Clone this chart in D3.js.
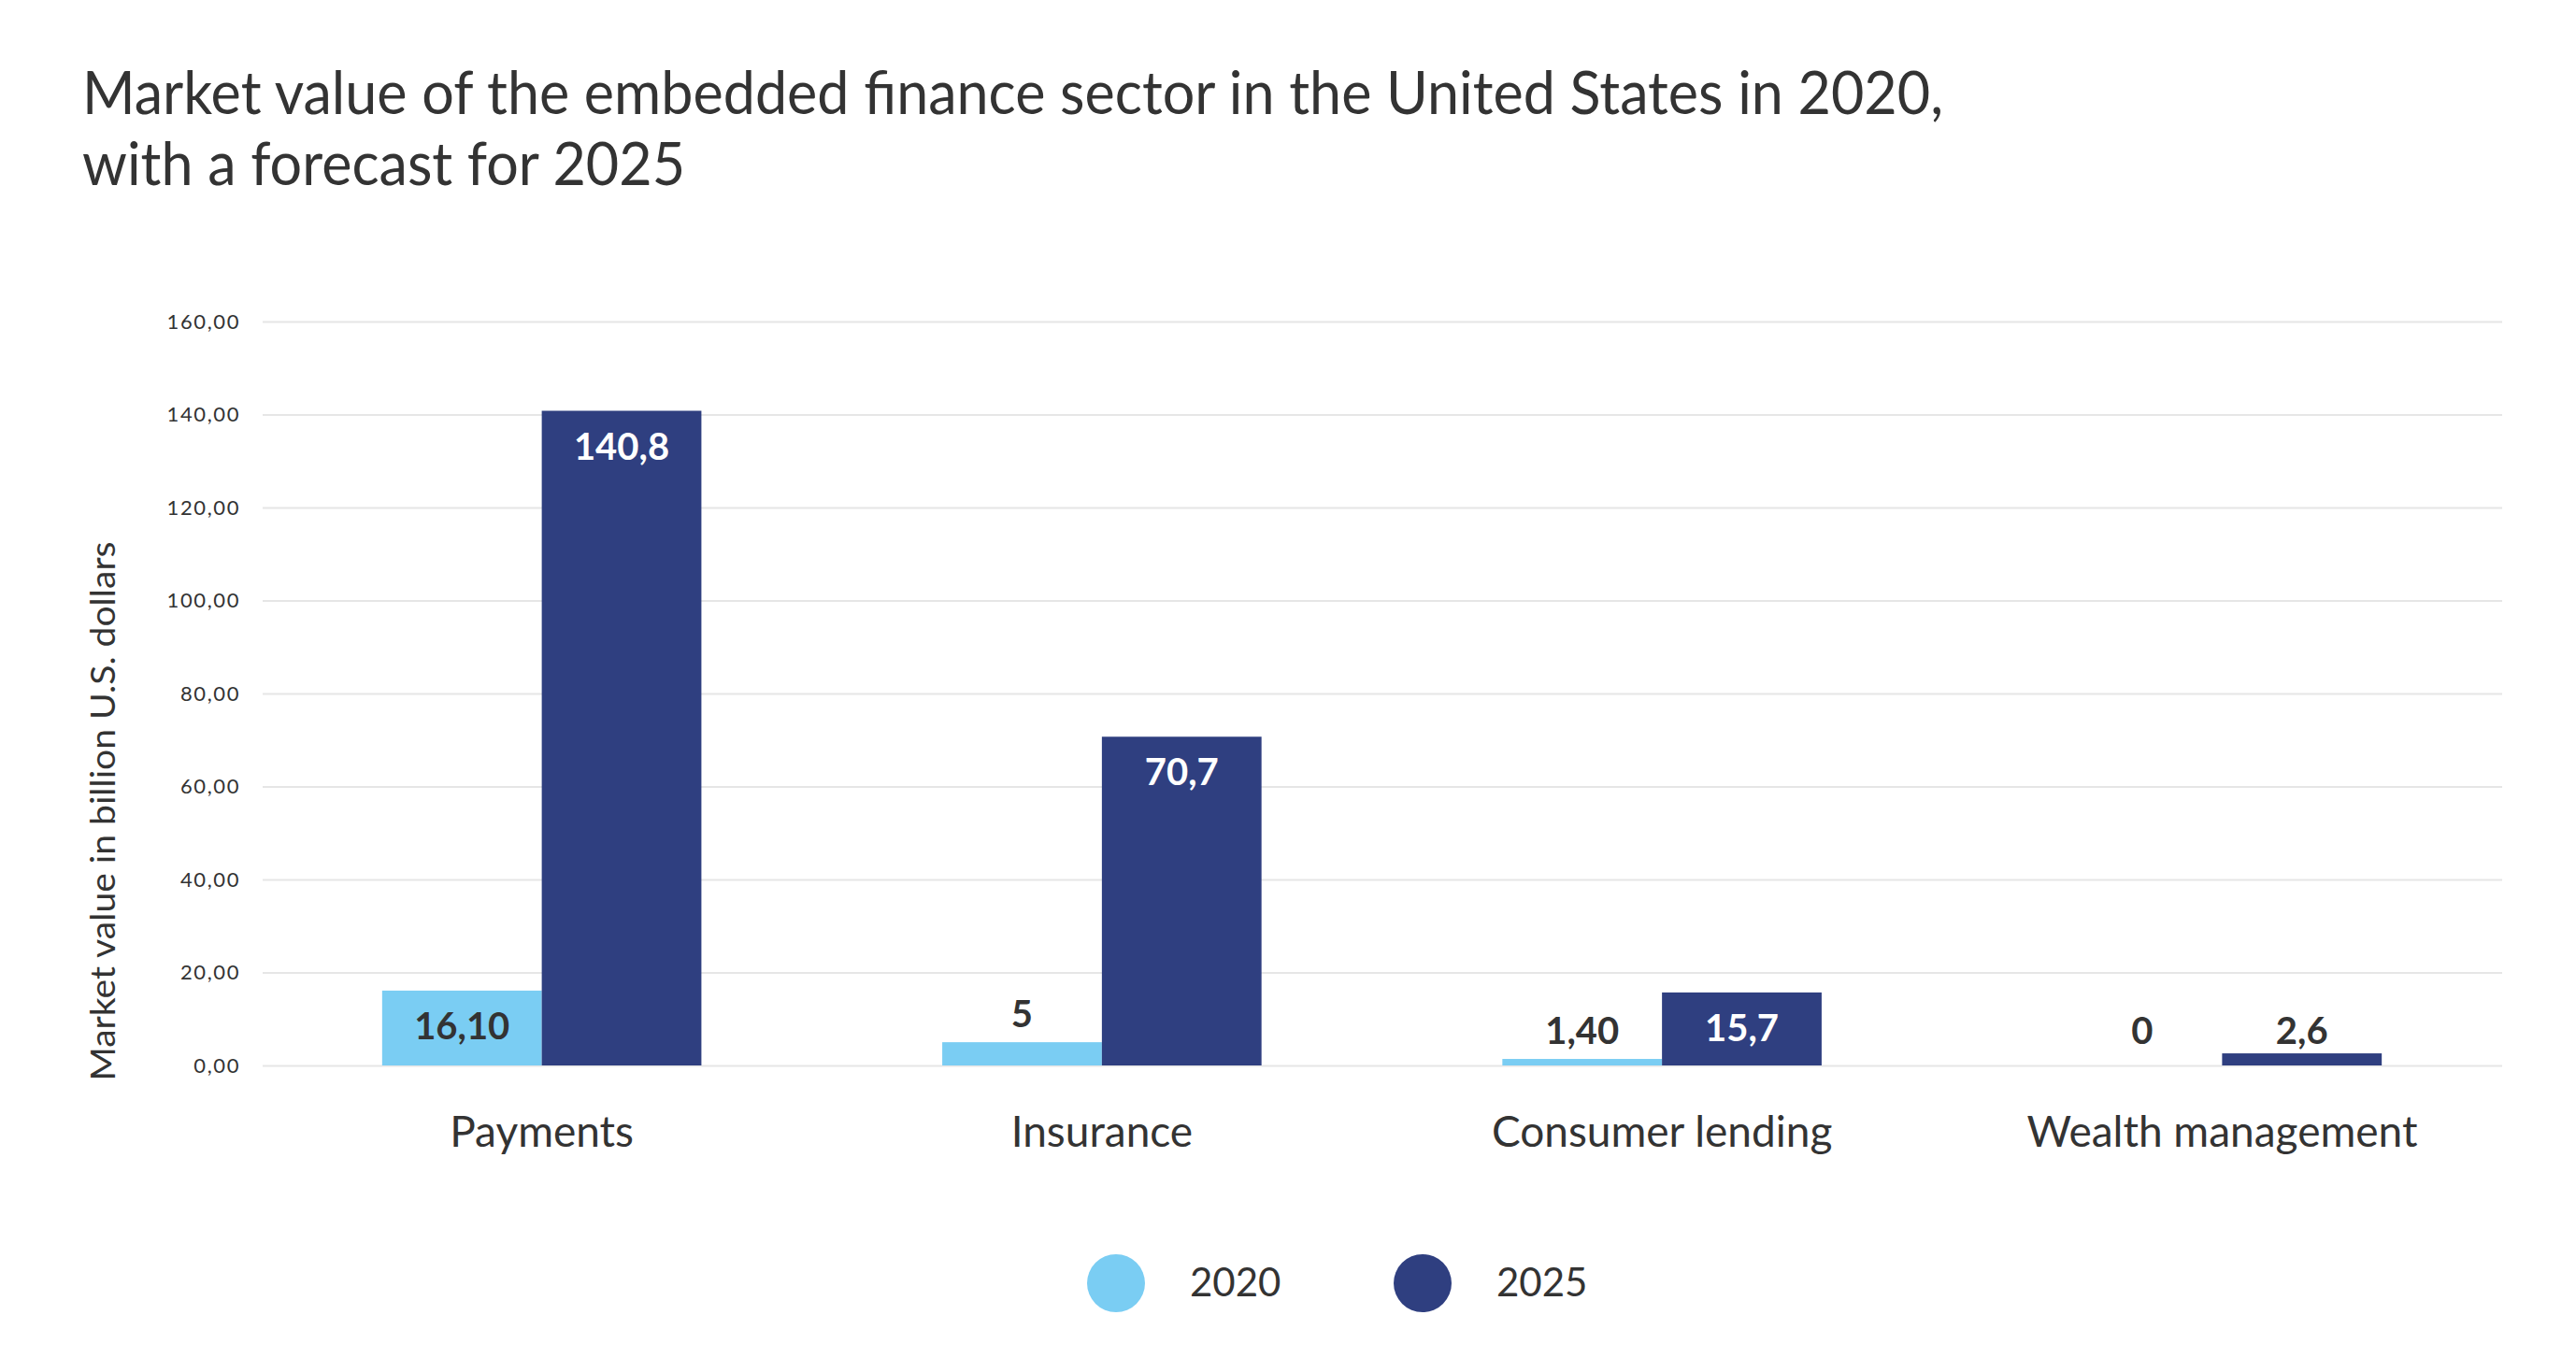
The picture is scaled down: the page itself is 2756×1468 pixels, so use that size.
<!DOCTYPE html>
<html>
<head>
<meta charset="utf-8">
<script src="https://cdn.jsdelivr.net/npm/d3@7"></script>
<style>
  html, body { margin: 0; padding: 0; background: #ffffff; }
  svg { display: block; }
  text { font-family: Lato, "Noto Sans", sans-serif; }
</style>
</head>
<body>
<svg id="chart" width="2756" height="1468"></svg>
<script>
// ---- data ----
const titleLines = [
  "Market value of the embedded finance sector in the United States in 2020,",
  "with a forecast for 2025"
];
const yAxisTitle = "Market value in billion U.S. dollars";
const categories = ["Payments", "Insurance", "Consumer lending", "Wealth management"];
const seriesNames = ["2020", "2025"];
const values2020 = [16.1, 5, 1.4, 0];
const values2025 = [140.8, 70.7, 15.7, 2.6];
const labels2020 = ["16,10", "5", "1,40", "0"];
const labels2025 = ["140,8", "70,7", "15,7", "2,6"];
const yTicks = [0, 20, 40, 60, 80, 100, 120, 140, 160];
const colors = ["#7acdf3", "#2f3f80"];

// ---- layout ----
const W = 2756, H = 1468;
const plot = { left: 281, right: 2677, top: 344, bottom: 1140 };
const textColor = "#333333";

const svg = d3.select("#chart");
svg.append("rect").attr("width", W).attr("height", H).attr("fill", "#ffffff");

// fit helper: compress text horizontally to a target width if needed
function fitWidth(sel, target) {
  sel.each(function () {
    const len = this.getComputedTextLength();
    if (len > 0) {
      d3.select(this).attr("textLength", target).attr("lengthAdjust", "spacingAndGlyphs");
    }
  });
}

// title
const title = svg.append("g").attr("class", "title");
const t1 = title.append("text").attr("x", 88).attr("y", 122)
  .attr("font-size", 63).attr("fill", textColor).text(titleLines[0]);
fitWidth(t1, 1991);
const t2 = title.append("text").attr("x", 88).attr("y", 198)
  .attr("font-size", 63).attr("fill", textColor).text(titleLines[1]);
// keep second line at same horizontal compression as first
(function () {
  const n1 = t1.node(), n2 = t2.node();
  svg.append("text").attr("id", "tmp").attr("font-size", 63).text(titleLines[0]);
  const raw1 = svg.select("#tmp").node().getComputedTextLength();
  svg.select("#tmp").remove();
  const ratio = 1991 / raw1;
  const raw2 = n2.getComputedTextLength();
  t2.attr("textLength", raw2 * ratio).attr("lengthAdjust", "spacingAndGlyphs");
})();

// scales
const x0 = d3.scaleBand().domain(categories).range([plot.left - 1, plot.right])
  .paddingInner(0.43).paddingOuter(0.215);
const x1 = d3.scaleBand().domain(seriesNames).range([0, x0.bandwidth()]);
const y = d3.scaleLinear().domain([0, 160]).range([plot.bottom, plot.top]);

// y axis with gridlines
const yAxis = svg.append("g").attr("transform", `translate(${plot.left},0)`)
  .call(d3.axisLeft(y).tickValues(yTicks)
    .tickFormat(d => d.toFixed(2).replace(".", ","))
    .tickSize(-(plot.right - plot.left)).tickPadding(24));
yAxis.select(".domain").remove();
yAxis.selectAll(".tick line").attr("stroke", "#e6e6e6").attr("stroke-width", 2);
yAxis.selectAll(".tick text").attr("font-size", 22).attr("fill", textColor)
  .attr("letter-spacing", 1.6).attr("font-family", "Lato, sans-serif");

// y axis title
svg.append("text")
  .attr("transform", `translate(123, 868) rotate(-90)`)
  .attr("text-anchor", "middle").attr("font-size", 36).attr("fill", textColor)
  .text(yAxisTitle)
  .call(s => fitWidth(s, 577));

// bars
const rows = categories.map((c, i) => ({
  category: c,
  items: [
    { series: seriesNames[0], value: values2020[i], label: labels2020[i], ci: 0 },
    { series: seriesNames[1], value: values2025[i], label: labels2025[i], ci: 1 }
  ]
}));

const groups = svg.append("g").selectAll("g").data(rows).join("g")
  .attr("transform", d => `translate(${x0(d.category)},0)`);

groups.selectAll("rect").data(d => d.items).join("rect")
  .attr("x", d => x1(d.series))
  .attr("y", d => y(d.value))
  .attr("width", x1.bandwidth())
  .attr("height", d => y(0) - y(d.value))
  .attr("fill", d => colors[d.ci]);

// value labels
groups.selectAll("text.val").data(d => d.items).join("text")
  .attr("class", "val")
  .attr("x", d => x1(d.series) + x1.bandwidth() / 2)
  .attr("y", d => {
    const top = y(d.value), h = y(0) - top;
    if (d.value >= 10) return top + 52;
    if (h < 20) return y(0) - 23;
    return top - 16;
  })
  .attr("text-anchor", "middle")
  .attr("font-size", 40).attr("font-weight", 700)
  .attr("fill", d => (d.value >= 10 && d.ci === 1) ? "#ffffff" : textColor)
  .text(d => d.label);

// x axis (category labels)
const xAxis = svg.append("g").attr("transform", `translate(0,${plot.bottom})`)
  .call(d3.axisBottom(x0).tickSize(0).tickPadding(54));
xAxis.select(".domain").remove();
xAxis.selectAll(".tick text").attr("font-size", 46).attr("fill", textColor)
  .attr("font-family", "Lato, sans-serif");

// legend
const legendX = [1194, 1522];
const legend = svg.append("g").selectAll("g").data(seriesNames).join("g")
  .attr("transform", (d, i) => `translate(${legendX[i]},1373)`);
legend.append("circle").attr("r", 31).attr("fill", (d, i) => colors[i]);
legend.append("text").attr("x", 79).attr("y", 14)
  .attr("font-size", 42).attr("fill", textColor).text(d => d);
</script>
</body>
</html>
